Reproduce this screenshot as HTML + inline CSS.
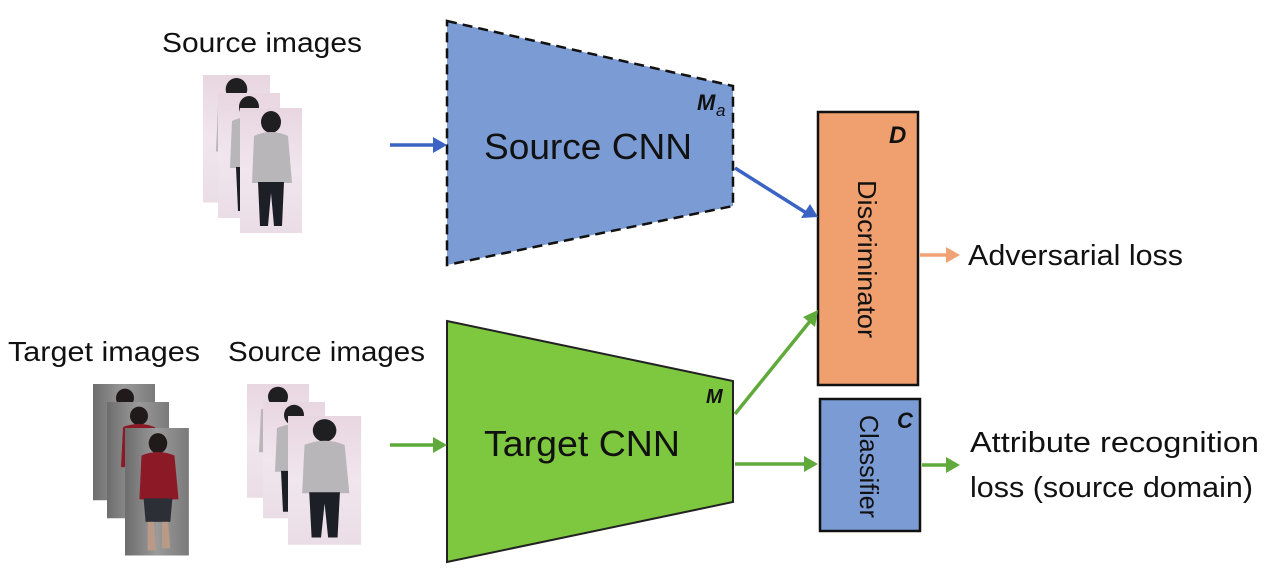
<!DOCTYPE html>
<html><head><meta charset="utf-8"><style>
html,body{margin:0;padding:0;background:#fff;}
svg{display:block;}
text{font-family:"Liberation Sans","DejaVu Sans",sans-serif;fill:#111;}
</style></head><body>
<svg width="1284" height="578" viewBox="0 0 1284 578" xmlns="http://www.w3.org/2000/svg">
<defs>
<linearGradient id="bgS" x1="0" y1="0" x2="0" y2="1"><stop offset="0" stop-color="#e8d6e0"/><stop offset="0.5" stop-color="#f1e6ee"/><stop offset="1" stop-color="#eadde6"/></linearGradient>
<linearGradient id="bgT" x1="0" y1="0" x2="1" y2="0"><stop offset="0" stop-color="#6d6d6d"/><stop offset="0.5" stop-color="#9a9a9a"/><stop offset="1" stop-color="#7a7a7a"/></linearGradient>
<g id="srcP">
 <rect x="0" y="0" width="62" height="125" fill="url(#bgS)"/>
 <ellipse cx="31" cy="14" rx="10" ry="11" fill="#1f1f22"/>
 <path d="M14 28 Q31 20 48 28 L52 75 L12 75 Z" fill="#b9b6b9"/>
 <path d="M18 74 L44 74 L42 118 L34 118 L31 85 L28 118 L20 118 Z" fill="#1d1f26"/>
</g>
<g id="tgtP">
 <rect x="0" y="0" width="62" height="125" fill="url(#bgT)"/>
 <ellipse cx="32" cy="15" rx="9" ry="10" fill="#201a1a"/>
 <path d="M16 27 Q32 20 48 27 L52 70 L14 70 Z" fill="#8c1a26"/>
 <path d="M18 69 L46 69 L44 92 L20 92 Z" fill="#2c2f36"/>
 <path d="M22 92 L28 92 L30 120 L22 120 Z M36 92 L42 92 L44 118 L36 118 Z" fill="#b89a86"/>
</g>
</defs>

<text x="162" y="52" font-size="28" textLength="200" lengthAdjust="spacingAndGlyphs">Source images</text>
<g transform="translate(203,75) scale(1.08,1.02)"><use href="#srcP"/></g>
<g transform="translate(218,93)"><use href="#srcP"/></g>
<g transform="translate(240,108)"><use href="#srcP"/></g>

<text x="8" y="361" font-size="28" textLength="192" lengthAdjust="spacingAndGlyphs">Target images</text>
<text x="228" y="361" font-size="28" textLength="197" lengthAdjust="spacingAndGlyphs">Source images</text>
<g transform="translate(93,384) scale(1,0.93)"><use href="#tgtP"/></g>
<g transform="translate(107,402) scale(1,0.93)"><use href="#tgtP"/></g>
<g transform="translate(125,428) scale(1.03,1.02)"><use href="#tgtP"/></g>
<g transform="translate(247,384) scale(1,0.91)"><use href="#srcP"/></g>
<g transform="translate(263,402) scale(1,0.93)"><use href="#srcP"/></g>
<g transform="translate(288,416) scale(1.18,1.03)"><use href="#srcP"/></g>

<polygon points="447,21 733,86 733,206 447,265" fill="#7b9bd5" stroke="#111" stroke-width="2.5" stroke-dasharray="10,6"/>
<text x="484" y="159" font-size="36" textLength="208" lengthAdjust="spacingAndGlyphs">Source CNN</text>
<text x="697" y="110" font-size="22" font-weight="bold" font-style="italic" font-family="Liberation Serif,serif">M</text>
<text x="716" y="116" font-size="17" font-style="italic" font-family="Liberation Serif,serif">a</text>

<polygon points="447,321 733,381 733,502 447,562" fill="#7dc83e" stroke="#222" stroke-width="2"/>
<text x="484" y="456" font-size="36" textLength="196" lengthAdjust="spacingAndGlyphs">Target CNN</text>
<text x="706" y="403" font-size="20" font-weight="bold" font-style="italic" font-family="Liberation Serif,serif">M</text>

<rect x="818" y="112" width="100" height="273" fill="#f0a06e" stroke="#111" stroke-width="2.5"/>
<text transform="translate(858,180) rotate(90)" font-size="26" textLength="158" lengthAdjust="spacingAndGlyphs">Discriminator</text>
<text x="889" y="143" font-size="24" font-weight="bold" font-style="italic" font-family="Liberation Serif,serif">D</text>

<rect x="820" y="399" width="100" height="132" fill="#7b9bd5" stroke="#111" stroke-width="2.5"/>
<text transform="translate(860,415) rotate(90)" font-size="26" textLength="103" lengthAdjust="spacingAndGlyphs">Classifier</text>
<text x="897" y="428" font-size="22" font-weight="bold" font-style="italic" font-family="Liberation Serif,serif">C</text>

<g stroke-width="3.5" fill="none">
 <line x1="390" y1="145" x2="437" y2="145" stroke="#3a63c4"/>
 <line x1="735" y1="168" x2="808" y2="214" stroke="#3a63c4"/>
 <line x1="390" y1="445" x2="437" y2="445" stroke="#5faa3a"/>
 <line x1="735" y1="414" x2="811" y2="320" stroke="#5faa3a"/>
 <line x1="735" y1="464" x2="808" y2="464" stroke="#5faa3a"/>
 <line x1="920" y1="255" x2="948" y2="255" stroke="#f0a274"/>
 <line x1="922" y1="465" x2="950" y2="465" stroke="#5faa3a"/>
</g>
<polygon points="447,145 433,137 433,153" fill="#3a63c4"/>
<polygon points="818,217 801,218 810,204" fill="#3a63c4"/>
<polygon points="447,445 433,437 433,453" fill="#5faa3a"/>
<polygon points="818,310 815,327 803,317" fill="#5faa3a"/>
<polygon points="818,464 804,456 804,472" fill="#5faa3a"/>
<polygon points="960,255 946,247 946,263" fill="#f0a274"/>
<polygon points="960,465 946,457 946,473" fill="#5faa3a"/>

<text x="968" y="265" font-size="29" textLength="215" lengthAdjust="spacingAndGlyphs">Adversarial loss</text>
<text x="970" y="452" font-size="29" textLength="289" lengthAdjust="spacingAndGlyphs">Attribute recognition</text>
<text x="970" y="497" font-size="29" textLength="283" lengthAdjust="spacingAndGlyphs">loss (source domain)</text>
</svg>
</body></html>
